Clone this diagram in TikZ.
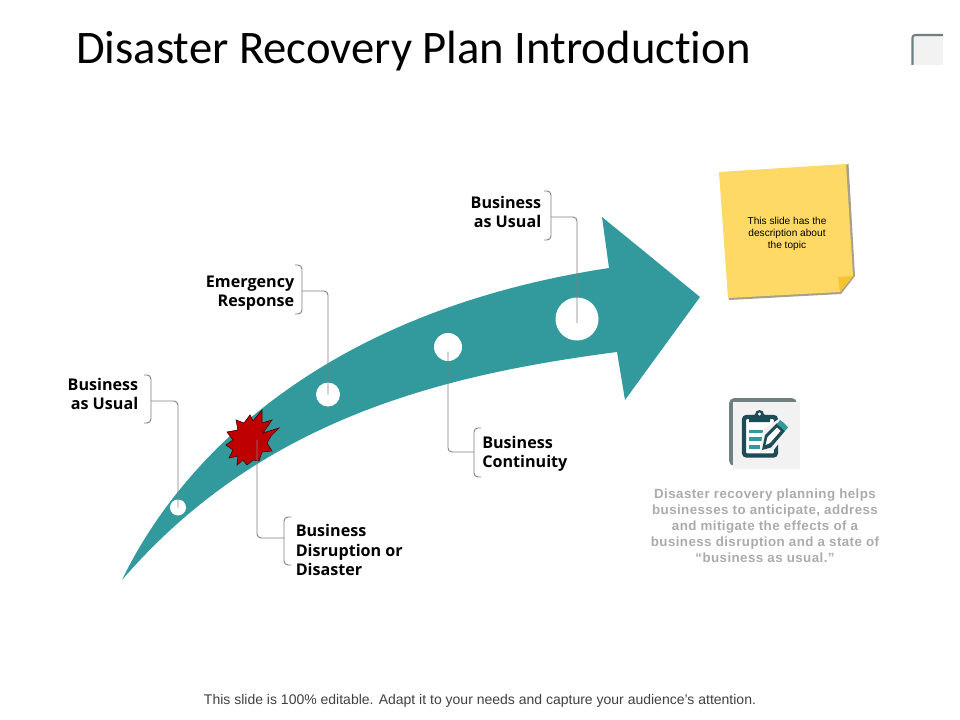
\documentclass[tikz,border=0pt]{standalone}
\usepackage{fontspec}
\setmainfont{Liberation Sans}
\newfontfamily\titlefont[Ligatures=NoCommon]{Carlito}
\newfontfamily\labelfont{Open Sans}
\definecolor{teal1}{HTML}{329A9D}
\definecolor{noteY}{HTML}{FFD966}
\definecolor{foldY}{HTML}{F7C42F}
\definecolor{noteS}{HTML}{A8A08A}
\definecolor{darkL}{HTML}{6F8080}
\definecolor{lightB}{HTML}{F2F2F2}
\definecolor{iconD}{HTML}{1C4C55}
\definecolor{brk}{HTML}{808080}
\definecolor{descG}{HTML}{ABABAB}
\tikzset{
  lab/.style={font=\labelfont\bfseries\fontsize{12.1}{14.3}\selectfont,text=black,inner sep=0pt},
  labr/.style={lab,align=right},
  labl/.style={lab,align=left},
  lead/.style={draw=brk,line width=0.7pt,rounded corners=3pt},
  dot/.style={circle,fill=white,draw=none,inner sep=0pt},
}
\begin{document}
\begin{tikzpicture}[x=0.75pt,y=-0.75pt]
\useasboundingbox (0,0) rectangle (960,720);
% title
\node[anchor=west,inner sep=0pt,font=\titlefont\fontsize{35}{38}\selectfont] (title) at (76,51) {Disaster Recovery Plan Introduction};
% corner box
\fill[lightB] (913,35) rectangle (943,65);
\draw[darkL,line width=1.6pt,rounded corners=2pt] (912.5,65) -- (912.5,35) -- (943,35);
% arrow
\fill[teal1] (122,580) .. controls (170,480) and (300,315) .. (609,268)
  -- (602,217) -- (700,297) -- (625,400) -- (617,352)
  .. controls (440,375) and (260,420) .. (122,580) -- cycle;
% dots
\node[dot,minimum size=16pt*0.75] (d1) at (178,507.5) {};
\node[dot,minimum size=24pt*0.75] (d2) at (328,394.5) {};
\node[dot,minimum size=28pt*0.75] (d3) at (448,347) {};
\node[dot,minimum size=43pt*0.75] (d4) at (577,319) {};
% starburst
\filldraw[fill=red!75!black,draw=black!70!red,line width=0.5pt]
 (279,428) -- (263,433) -- (272,420) -- (262,423) -- (262,410) -- (253,421) -- (250,415) -- (244,423) -- (236,420) -- (238,430) -- (227,432) -- (233,440) -- (226,445) -- (233,450) -- (229,458) -- (238,456) -- (237,465) -- (243,460) -- (247,465) -- (253,460) -- (259,461) -- (262,452) -- (272,451) -- (267,443) -- (271,436) -- cycle;
% labels
\node[labr,anchor=east] (l1) at (138.5,393.5) {Business\\as Usual};
\node[labr,anchor=east] (l2) at (294.5,293.5) {Emergency\\Response};
\node[labr,anchor=east] (l3) at (541.5,211.5) {Business\\as Usual};
\node[labl,anchor=west] (l4) at (482,453.5) {Business\\Continuity};
\node[labl,anchor=west] (l5) at (295.5,550) {Business\\Disruption or\\Disaster};
% brackets and leaders
\coordinate (b1) at (151,401);
\coordinate (b2) at (302,291);
\coordinate (b3) at (551,217);
\coordinate (b4) at (474,452);
\coordinate (b5) at (284,538);
\coordinate (t5) at (257,440);
\draw[lead] (144,375) -- (151,375) -- (151,423) -- (144,423);
\draw[lead] (b1) -| (d1.center);
\draw[lead] (295,265) -- (302,265) -- (302,314) -- (295,314);
\draw[lead] (b2) -| (d2.center);
\draw[lead] (544,191) -- (551,191) -- (551,240) -- (544,240);
\draw[lead] (b3) -| ([yshift=-3pt]d4.center);
\draw[lead] (481,428) -- (474,428) -- (474,477) -- (481,477);
\draw[lead] (b4) -| ([yshift=-3.5pt]d3.center);
\draw[lead] (291,517) -- (284,517) -- (284,565) -- (291,565);
\draw[lead] (b5) -| (t5);
% sticky note
\fill[noteS] (848.5,163.5) -- (855,276) -- (841,294) -- (729,300) -- (728,296) -- (840,290) -- (846,165) -- cycle;
\fill[noteY] (719,172) -- (846,164) -- (853,276) -- (840,292) -- (728,298) -- cycle;
\fill[foldY] (838,277) -- (853,276) -- (840,292) -- cycle;
\node[inner sep=0pt,align=center,font=\fontsize{7.6}{9}\selectfont] (note) at (787,234) {This slide has the\\description about\\the topic};
% icon
\fill[darkL,rounded corners=4pt] (729,466) -- (729,398) -- (797,398) -- (797,440) -- (760,466) -- cycle;
\fill[lightB] (733,402) rectangle (800,469);
\draw[iconD,line width=3.2pt,rounded corners=2pt,fill=white] (744,417) rectangle (776,455.5);
\fill[iconD] (749,422) -- (749,416) -- (755,414.5) arc (180:360:4.5) -- (770,416) -- (770,422) -- cycle;
\fill[white] (759.5,414) circle (1.7);
\draw[teal1,line width=2.4pt] (749,431.5) -- (771,431.5);
\draw[teal1,line width=2.4pt] (749,439) -- (765,439);
\draw[teal1,line width=2.4pt] (749,447) -- (760,447);
\fill[lightB] (763,430) -- (780,418) -- (790,428) -- (773,451) -- (760,453) -- cycle;
\fill[iconD] (765,435) -- (777,423) -- (785,431) -- (771,447.5) -- (762,450) -- cycle;
\fill[white] (767.5,437) -- (777,427.5) -- (780.5,431) -- (770,443) -- (765.5,445) -- cycle;
\fill[teal1] (780,420) -- (784,423) -- (788,427.5) -- (785,431) -- (777,424) -- cycle;
% description
\node[inner sep=0pt,align=center,text=descG,font=\bfseries\fontsize{10}{12.1}\selectfont] (desc) at (765,525.5) {\addfontfeatures{LetterSpace=3.2}Disaster recovery planning helps\\\addfontfeatures{LetterSpace=3.2}businesses to anticipate, address\\\addfontfeatures{LetterSpace=3.2}and mitigate the effects of a\\\addfontfeatures{LetterSpace=3.2}business disruption and a state of\\\addfontfeatures{LetterSpace=3.2}“business as usual.”};
% footer
\node[inner sep=0pt,text=black!75,font=\fontsize{10.5}{12}\selectfont] (foot) at (480,701) {This slide is 100\% editable. Adapt it to your needs and capture your audience's attention.};
\end{tikzpicture}
\end{document}
